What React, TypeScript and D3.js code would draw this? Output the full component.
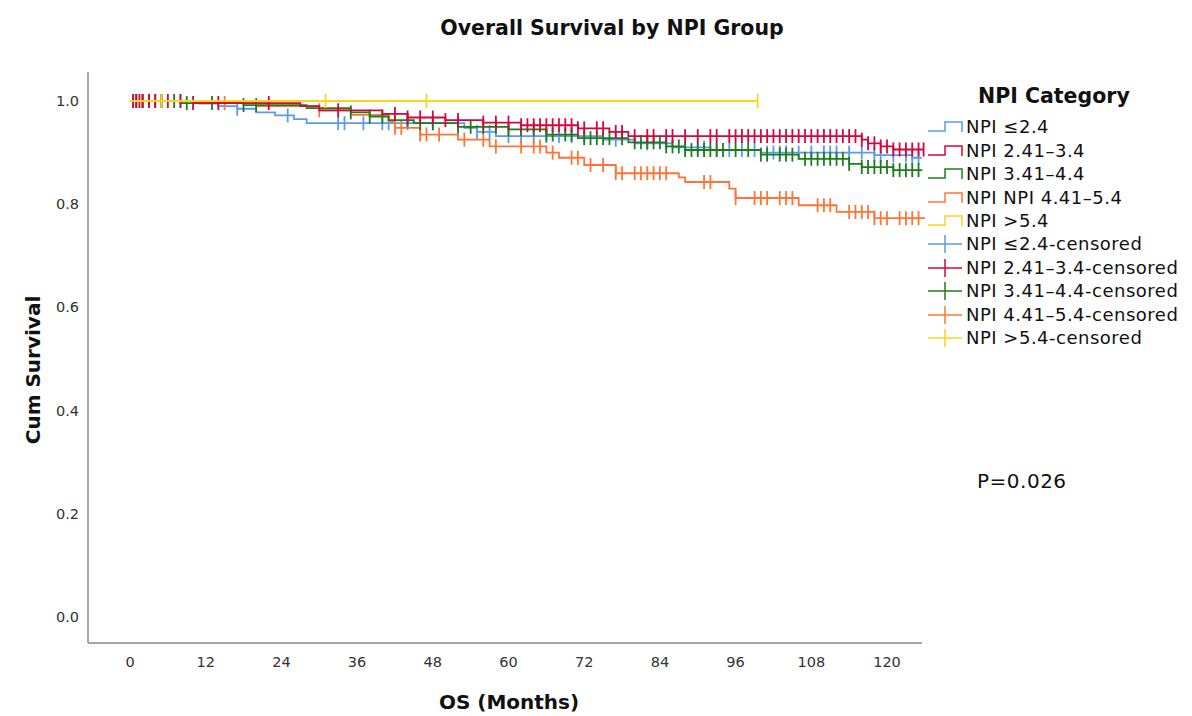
import React from 'react';
import * as d3 from 'd3';

// Kaplan-Meier steps (months, cumulative survival)
const groupNames = ['NPI \u22642.4', 'NPI 2.41\u20133.4', 'NPI 3.41\u20134.4', 'NPI NPI 4.41\u20135.4', 'NPI >5.4'];
const censorNames = ['NPI \u22642.4-censored', 'NPI 2.41\u20133.4-censored', 'NPI 3.41\u20134.4-censored', 'NPI 4.41\u20135.4-censored', 'NPI >5.4-censored'];
const groupColors = ['#5b9be8', '#d4063f', '#1d7d1d', '#ff7436', '#ffd21c'];

const blueTimes = [0, 11, 14, 17, 20, 23, 26, 28, 53, 55, 58, 75, 80, 86, 92, 100, 118, 124];
const blueSurv = [1, 0.995, 0.99, 0.985, 0.978, 0.972, 0.965, 0.957, 0.948, 0.94, 0.932, 0.925, 0.918, 0.91, 0.905, 0.9, 0.895, 0.89];
const blueCensor = [1, 2, 3, 5, 8, 17, 25, 33, 34, 37, 40, 41, 42, 44, 48, 52, 55, 57, 60, 62, 64, 66, 68, 70, 72, 77, 82, 85, 88, 90, 91, 93, 95, 97, 99, 101, 102, 103, 104, 106, 108, 110, 111, 112, 114, 116, 118, 119, 121, 123, 124, 125];
const blueEnd = 125.5;

const redTimes = [0, 10, 27, 30, 40, 44, 50, 56, 62, 71, 76, 79, 116, 117, 119, 121];
const redSurv = [1, 0.996, 0.99, 0.982, 0.975, 0.968, 0.963, 0.958, 0.953, 0.947, 0.94, 0.932, 0.925, 0.918, 0.912, 0.906];
const redCensor = [0.5, 1, 1.5, 2, 3, 4, 6, 8, 10, 14, 22, 33, 42, 44, 46, 48, 50, 52, 56, 58, 60, 62, 63, 64, 65, 66, 67, 68, 69, 70, 71, 72, 74, 75, 77, 78, 80, 82, 83, 85, 86, 88, 90, 92, 93, 95, 96, 97, 98, 99, 100, 101, 102, 103, 104, 105, 106, 107, 108, 109, 110, 111, 112, 113, 114, 115, 116, 117, 118, 119, 120, 121, 122, 123, 124, 125, 125.8];
const redEnd = 125.8;

const greenTimes = [0, 8, 18, 28, 35, 38, 41, 45, 52, 60, 66, 71, 79, 85, 88, 100, 106, 114, 116, 121];
const greenSurv = [1, 0.996, 0.992, 0.986, 0.978, 0.97, 0.963, 0.957, 0.95, 0.945, 0.935, 0.928, 0.92, 0.912, 0.905, 0.896, 0.888, 0.878, 0.872, 0.866];
const greenCensor = [0.5, 1, 2, 3, 4, 5, 7, 9, 13, 18, 20, 35, 38, 40, 44, 46, 48, 52, 54, 56, 58, 60, 62, 64, 66, 67, 69, 70, 72, 73, 74, 75, 76, 78, 80, 81, 82, 83, 84, 85, 86, 87, 88, 89, 90, 91, 92, 93, 94, 96, 98, 100, 101, 103, 104, 105, 107, 108, 109, 110, 111, 112, 113, 114, 116, 117, 118, 119, 120, 121, 122, 123, 124, 125];
const greenEnd = 125.6;

const orangeTimes = [0, 10, 20, 30, 35, 41, 42, 46, 52, 57, 66, 68, 72, 77, 87, 88, 95, 96, 106, 112, 118];
const orangeSurv = [1, 0.996, 0.99, 0.982, 0.973, 0.96, 0.948, 0.935, 0.925, 0.912, 0.9, 0.89, 0.876, 0.86, 0.852, 0.843, 0.83, 0.812, 0.798, 0.785, 0.773];
const orangeCensor = [2, 5, 15, 30, 42, 43, 46, 47, 49, 53, 56, 58, 62, 64, 65, 67, 70, 71, 73, 75, 77, 78, 80, 81, 82, 83, 84, 85, 91, 92, 96, 99, 100, 101, 103, 104, 105, 109, 110, 111, 114, 115, 116, 117, 118, 119, 120, 122, 123, 124, 125];
const orangeEnd = 126;

const yellowTimes = [0];
const yellowSurv = [1];
const yellowCensor = [5, 31, 47, 99.5];
const yellowEnd = 99.5;

const xTicks = [0, 12, 24, 36, 48, 60, 72, 84, 96, 108, 120];
const yTicks = [0, 0.2, 0.4, 0.6, 0.8, 1.0];

const W = 1192;
const H = 716;
const FONT = '"DejaVu Sans", Verdana, sans-serif';

const App = () => {
  const x = d3.scaleLinear().domain([0, 120]).range([130, 887]);
  const y = d3.scaleLinear().domain([0, 1]).range([617, 101]);

  const groups = [
    { times: blueTimes, surv: blueSurv, censor: blueCensor, end: blueEnd },
    { times: redTimes, surv: redSurv, censor: redCensor, end: redEnd },
    { times: greenTimes, surv: greenSurv, censor: greenCensor, end: greenEnd },
    { times: orangeTimes, surv: orangeSurv, censor: orangeCensor, end: orangeEnd },
    { times: yellowTimes, surv: yellowSurv, censor: yellowCensor, end: yellowEnd },
  ].map((g, i) => ({ ...g, color: groupColors[i] }));

  const line = d3.line<[number, number]>()
    .x(d => x(d[0]))
    .y(d => y(d[1]))
    .curve(d3.curveStepAfter);

  const survAt = (g, t) => {
    let s = g.surv[0];
    g.times.forEach((tt, i) => { if (tt <= t) s = g.surv[i]; });
    return s;
  };

  const drawOrder = [0, 3, 2, 1, 4];

  const xAxisY = 643;
  const yAxisX = 88;

  const legendY = [127, 151, 174, 198, 221, 244, 268, 291, 315, 338];

  return (
    <svg width={W} height={H} style={{ position: 'absolute', left: 0, top: 0, background: '#fff' }}
      fontFamily={FONT}>
      <rect width={W} height={H} fill="#fff" />
      <text x={612} y={35} textAnchor="middle" fontSize={20.5} fontWeight="bold" fill="#111">
        Overall Survival by NPI Group
      </text>

      {/* axes */}
      <line x1={yAxisX} x2={yAxisX} y1={72} y2={xAxisY} stroke="#8a8a8a" strokeWidth={1.5} />
      <line x1={yAxisX} x2={922} y1={xAxisY} y2={xAxisY} stroke="#8a8a8a" strokeWidth={1.5} />
      {yTicks.map(t => (
        <text key={t} x={79} y={y(t) + 5} textAnchor="end" fontSize={14.5} fill="#333">
          {d3.format('.1f')(t)}
        </text>
      ))}
      {xTicks.map(t => (
        <text key={t} x={x(t)} y={667} textAnchor="middle" fontSize={14.5} fill="#333">
          {t}
        </text>
      ))}
      <text transform={`translate(40,370) rotate(-90)`} textAnchor="middle" fontSize={20} fontWeight="bold" fill="#111">
        Cum Survival
      </text>
      <text x={509} y={709} textAnchor="middle" fontSize={20} fontWeight="bold" fill="#111">
        OS (Months)
      </text>

      {/* curves */}
      {drawOrder.map(i => {
        const g = groups[i];
        const pts: [number, number][] = g.times.map((t, k) => [t, g.surv[k]]);
        pts.push([g.end, g.surv[g.surv.length - 1]]);
        return (
          <g key={i}>
            <path d={line(pts) || ''} fill="none" stroke={g.color} strokeWidth={1.8} />
            {g.censor.map((c, k) => (
              <line key={k} x1={x(c)} x2={x(c)} y1={y(survAt(g, c)) - 7} y2={y(survAt(g, c)) + 7}
                stroke={g.color} strokeWidth={1.8} />
            ))}
          </g>
        );
      })}

      {/* legend */}
      <text x={978} y={103} fontSize={20.5} fontWeight="bold" fill="#111">NPI Category</text>
      {groupNames.map((n, i) => {
        const ly = legendY[i];
        return (
          <g key={n}>
            <path d={`M928,${ly + 4}H945V${ly - 5}H962V${ly + 5}`} fill="none" stroke={groupColors[i]} strokeWidth={1.5} />
            <text x={966} y={ly + 6} fontSize={18} letterSpacing={0.5} fill="#111">{n}</text>
          </g>
        );
      })}
      {censorNames.map((n, i) => {
        const ly = legendY[i + 5];
        return (
          <g key={n}>
            <line x1={928} x2={962} y1={ly} y2={ly} stroke={groupColors[i]} strokeWidth={1.5} />
            <line x1={945} x2={945} y1={ly - 9} y2={ly + 9} stroke={groupColors[i]} strokeWidth={1.5} />
            <text x={966} y={ly + 6} fontSize={18} letterSpacing={0.5} fill="#111">{n}</text>
          </g>
        );
      })}

      <text x={977} y={488} fontSize={20} letterSpacing={0.5} fill="#111">P=0.026</text>
    </svg>
  );
};

export default App;
